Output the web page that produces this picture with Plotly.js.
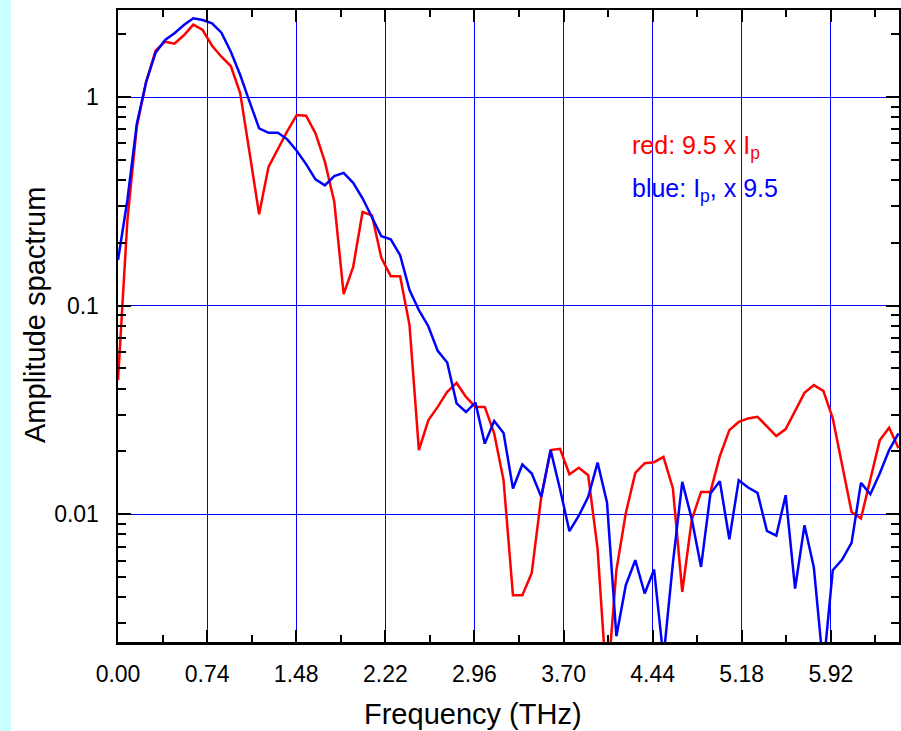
<!DOCTYPE html>
<html>
<head>
<meta charset="utf-8">
<script src="https://cdn.plot.ly/plotly-3.0.1.min.js"></script>
<style>
  html, body { margin: 0; padding: 0; }
  body { width: 901px; height: 731px; background: linear-gradient(to right, #ccffff 0px, #ccffff 11px, #ffffff 11px); }
  #chart { width: 901px; height: 731px; }
</style>
</head>
<body>
<div id="chart"></div>
<script>
// Frequency grid (THz)
const freq = [
  0.000, 0.078, 0.156, 0.234, 0.312, 0.391, 0.469, 0.547, 0.625, 0.703,
  0.781, 0.859, 0.937, 1.015, 1.093, 1.172, 1.250, 1.328, 1.406, 1.484,
  1.562, 1.640, 1.718, 1.796, 1.874, 1.953, 2.031, 2.109, 2.187, 2.265,
  2.343, 2.421, 2.499, 2.577, 2.655, 2.734, 2.812, 2.890, 2.968, 3.046,
  3.124, 3.202, 3.280, 3.358, 3.436, 3.515, 3.593, 3.671, 3.749, 3.827,
  3.905, 3.983, 4.061, 4.139, 4.217, 4.296, 4.374, 4.452, 4.530, 4.608,
  4.686, 4.764, 4.842, 4.920, 4.998, 5.077, 5.155, 5.233, 5.311, 5.389,
  5.467, 5.545, 5.623, 5.701, 5.779, 5.858, 5.936, 6.014, 6.092, 6.170,
  6.248, 6.326, 6.404, 6.482
];

// red: 9.5 x Ip
const redAmp = [
  0.0439, 0.257, 0.720, 1.184, 1.668, 1.842, 1.801, 1.977, 2.223, 2.096,
  1.762, 1.561, 1.408, 1.042, 0.539, 0.274, 0.463, 0.568, 0.687, 0.820,
  0.814, 0.670, 0.490, 0.315, 0.1136, 0.1535, 0.281, 0.271, 0.1696, 0.1385,
  0.1385, 0.0806, 0.0203, 0.0282, 0.0327, 0.0386, 0.0426, 0.0365, 0.0327, 0.0327,
  0.0244, 0.01456, 0.00409, 0.00409, 0.00523, 0.01211, 0.0203, 0.0206, 0.01555, 0.0167,
  0.01538, 0.00680, 0.00143, 0.00539, 0.01011, 0.01578, 0.01757, 0.01776, 0.01883, 0.01332,
  0.00424, 0.00936, 0.01279, 0.01279, 0.01897, 0.0253, 0.0277, 0.0288, 0.0293, 0.0264,
  0.0237, 0.0256, 0.0315, 0.0382, 0.0416, 0.0390, 0.0288, 0.01718, 0.01026, 0.00954,
  0.01472, 0.0226, 0.0260, 0.0207
];

// blue: Ip, x 9.5
const blueAmp = [
  0.1653, 0.321, 0.742, 1.184, 1.631, 1.877, 2.021, 2.214, 2.385, 2.341,
  2.257, 2.034, 1.649, 1.275, 0.949, 0.708, 0.674, 0.674, 0.627, 0.553,
  0.477, 0.403, 0.377, 0.418, 0.433, 0.388, 0.327, 0.267, 0.215, 0.208,
  0.1746, 0.1187, 0.0951, 0.0797, 0.0607, 0.0534, 0.0340, 0.0309, 0.0343, 0.0218,
  0.0280, 0.0245, 0.01328, 0.01731, 0.01568, 0.01211, 0.0203, 0.01318, 0.00829, 0.00984,
  0.01211, 0.01767, 0.01139, 0.00260, 0.00457, 0.00602, 0.00417, 0.00543, 0.00204, 0.00582,
  0.01429, 0.00954, 0.00559, 0.01257, 0.01440, 0.00759, 0.01456, 0.01343, 0.01266, 0.00832,
  0.00790, 0.01234, 0.00440, 0.00886, 0.00555, 0.00183, 0.00539, 0.00606, 0.00729, 0.01413,
  0.01247, 0.01568, 0.0203, 0.0244
];

// Tick values / labels
const xTickVals = [0, 0.74, 1.48, 2.22, 2.96, 3.70, 4.44, 5.18, 5.92];
const xTickText = ["0.00", "0.74", "1.48", "2.22", "2.96", "3.70", "4.44", "5.18", "5.92"];
const xMinorVals = [0.37, 1.11, 1.85, 2.59, 3.33, 4.07, 4.81, 5.55, 6.29];
const yTickVals = [0.01, 0.1, 1];
const yTickText = ["0.01", "0.1", "1"];
const yMinorVals = [0.003, 0.004, 0.005, 0.006, 0.007, 0.008, 0.009,
                    0.02, 0.03, 0.04, 0.05, 0.06, 0.07, 0.08, 0.09,
                    0.2, 0.3, 0.4, 0.5, 0.6, 0.7, 0.8, 0.9, 2];

const xTitle = "Frequency (THz)";
const yTitle = "Amplitude spactrum";
const redLabel = "red: 9.5 x I<sub>p</sub>";
const blueLabel = "blue: I<sub>p</sub>, x 9.5";

const FONT = "Liberation Sans, Arial, Helvetica, sans-serif";

const traces = [
  { x: freq, y: redAmp, type: "scatter", mode: "lines", name: "red",
    line: { color: "#ff0000", width: 2.5 } },
  { x: freq, y: blueAmp, type: "scatter", mode: "lines", name: "blue",
    line: { color: "#0000ff", width: 2.5 } }
];

const layout = {
  width: 901, height: 731,
  margin: { l: 118, r: 2, t: 10, b: 89 },
  paper_bgcolor: "rgba(0,0,0,0)",
  plot_bgcolor: "#ffffff",
  showlegend: false,
  hovermode: false,
  font: { family: FONT, color: "#000000", size: 23 },
  xaxis: {
    range: [0, 6.486],
    tickmode: "array", tickvals: xTickVals, ticktext: xTickText,
    ticks: "inside", ticklen: 12, tickwidth: 2, tickcolor: "#000000",
    ticklabelstandoff: 10,
    showline: true, linecolor: "#000000", linewidth: 2.5, mirror: "ticks",
    showgrid: true, gridcolor: "#0000ff", gridwidth: 1,
    zeroline: false,
    tickfont: { family: FONT, size: 23, color: "#000000" },
    minor: { tickmode: "array", tickvals: xMinorVals, ticks: "inside", ticklen: 7,
             tickwidth: 2, tickcolor: "#000000", showgrid: false }
  },
  yaxis: {
    type: "log",
    range: [-2.6125, 0.4173],
    tickmode: "array", tickvals: yTickVals, ticktext: yTickText,
    ticks: "inside", ticklen: 13, tickwidth: 2, tickcolor: "#000000",
    ticklabelstandoff: 12,
    showline: true, linecolor: "#000000", linewidth: 2.5, mirror: "ticks",
    showgrid: true, gridcolor: "#0000ff", gridwidth: 1,
    zeroline: false,
    tickfont: { family: FONT, size: 23, color: "#000000" },
    minor: { tickmode: "array", tickvals: yMinorVals, ticks: "inside", ticklen: 8,
             tickwidth: 2, tickcolor: "#000000", showgrid: false }
  },
  annotations: [
    { xref: "paper", yref: "paper", x: 0.4545, y: -0.1139, xanchor: "center", yanchor: "middle",
      showarrow: false, text: xTitle,
      font: { family: FONT, size: 29, color: "#000000" } },
    { xref: "paper", yref: "paper", x: -0.1063, y: 0.5174, xanchor: "center", yanchor: "middle",
      showarrow: false, textangle: -90, text: yTitle,
      font: { family: FONT, size: 29, color: "#000000" } },
    { xref: "paper", yref: "paper", x: 0.656, y: 0.783, xanchor: "left", yanchor: "middle",
      showarrow: false, text: redLabel,
      font: { family: FONT, size: 25, color: "#ff0000" } },
    { xref: "paper", yref: "paper", x: 0.656, y: 0.715, xanchor: "left", yanchor: "middle",
      showarrow: false, text: blueLabel,
      font: { family: FONT, size: 25, color: "#0000ff" } }
  ]
};

Plotly.newPlot("chart", traces, layout, { staticPlot: true, displayModeBar: false });
</script>
</body>
</html>
